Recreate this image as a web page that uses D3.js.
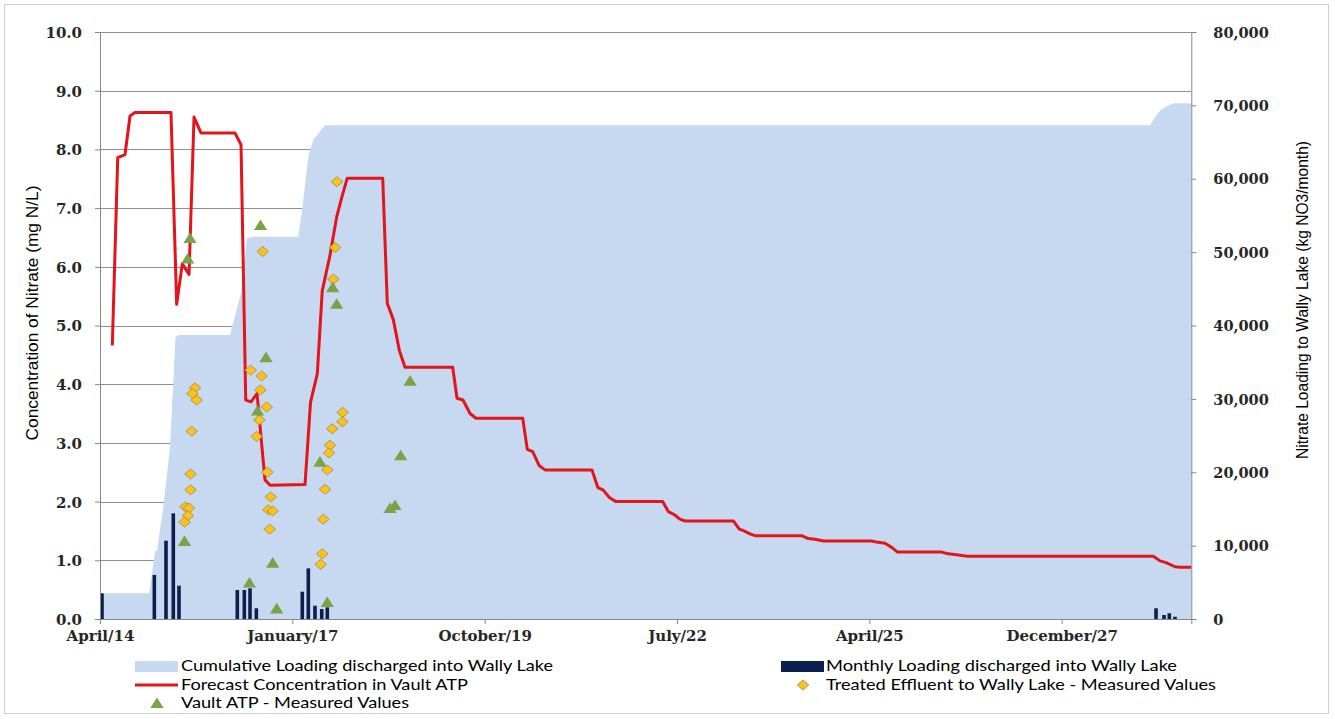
<!DOCTYPE html>
<html>
<head>
<meta charset="utf-8">
<script src="https://cdn.jsdelivr.net/npm/d3@7"></script>
<style>
  body { margin: 0; background: #ffffff; }
  svg { display: block; }
</style>
</head>
<body>
<svg id="chart" width="1335" height="719"></svg>
<script>
// ---- Data (time in decimal years) ----
const xTickYears  = [2014.2986, 2017.0365, 2019.7744, 2022.5123, 2025.2502, 2027.9881];
const xTickLabels = ["April/14", "January/17", "October/19", "July/22", "April/25", "December/27"];
const leftTicks   = [0, 1, 2, 3, 4, 5, 6, 7, 8, 9, 10];
const rightTicks  = [0, 10000, 20000, 30000, 40000, 50000, 60000, 70000, 80000];

// Cumulative loading discharged into Wally Lake (kg NO3)
const cumulative = [
  [2014.313, 3500], [2014.999, 3500], [2015.084, 9300], [2015.110, 9300],
  [2015.195, 14900], [2015.295, 23400], [2015.373, 38400], [2015.409, 38700],
  [2016.149, 38700], [2016.316, 44800], [2016.391, 51900], [2016.477, 52100],
  [2017.121, 52100], [2017.170, 55300], [2017.264, 63000], [2017.335, 65300],
  [2017.502, 67300], [2029.245, 67300], [2029.317, 68400], [2029.402, 69400],
  [2029.502, 70000], [2029.587, 70300], [2029.833, 70300]
];

// Monthly loading discharged into Wally Lake (kg NO3/month)
const monthly = [
  [2014.327, 3500], [2015.072, 6000], [2015.238, 10670], [2015.342, 14400],
  [2015.423, 4540], [2016.253, 3950], [2016.353, 3950], [2016.434, 4180],
  [2016.524, 1460], [2017.178, 3720], [2017.264, 6900], [2017.359, 1810],
  [2017.455, 1360], [2017.534, 1590], [2029.331, 1460], [2029.445, 545],
  [2029.520, 780], [2029.601, 310]
];

// Forecast concentration in Vault ATP (mg N/L)
const forecast = [
  [2014.474, 4.66], [2014.551, 7.86], [2014.654, 7.91], [2014.726, 8.57], [2014.797, 8.63],
  [2015.309, 8.63], [2015.390, 5.36], [2015.470, 6.05], [2015.519, 5.96], [2015.566, 5.87],
  [2015.637, 8.55], [2015.736, 8.28], [2016.220, 8.28], [2016.306, 8.08], [2016.373, 3.73],
  [2016.448, 3.70], [2016.534, 3.84], [2016.647, 2.37], [2016.719, 2.28], [2017.217, 2.29],
  [2017.295, 3.69], [2017.392, 4.18], [2017.462, 5.59], [2017.573, 6.20], [2017.668, 6.85],
  [2017.744, 7.20], [2017.818, 7.51], [2018.323, 7.51], [2018.388, 5.38], [2018.474, 5.10],
  [2018.559, 4.58], [2018.640, 4.29], [2019.319, 4.29], [2019.381, 3.76], [2019.466, 3.73],
  [2019.566, 3.50], [2019.651, 3.42], [2020.316, 3.42], [2020.381, 2.89], [2020.458, 2.85],
  [2020.552, 2.61], [2020.633, 2.54], [2021.302, 2.54], [2021.385, 2.24], [2021.459, 2.20],
  [2021.549, 2.07], [2021.644, 2.00], [2022.309, 2.00], [2022.388, 1.83], [2022.470, 1.78],
  [2022.555, 1.70], [2022.626, 1.67], [2023.314, 1.67], [2023.399, 1.53], [2023.466, 1.50],
  [2023.551, 1.45], [2023.623, 1.42], [2024.287, 1.42], [2024.381, 1.37], [2024.477, 1.36],
  [2024.595, 1.33], [2025.284, 1.33], [2025.355, 1.31], [2025.473, 1.29], [2025.568, 1.22],
  [2025.651, 1.14], [2026.280, 1.14], [2026.374, 1.11], [2026.517, 1.09], [2026.645, 1.07],
  [2029.292, 1.07], [2029.388, 0.99], [2029.473, 0.96], [2029.601, 0.89], [2029.672, 0.88],
  [2029.833, 0.88]
];

// Treated effluent to Wally Lake - measured values (mg N/L)
const effluent = [
  [2015.651, 3.94], [2015.613, 3.84], [2015.675, 3.73], [2015.604, 3.20], [2015.587, 2.47],
  [2015.587, 2.20], [2015.516, 1.91], [2015.566, 1.89], [2015.551, 1.76], [2015.502, 1.65],
  [2016.615, 6.26], [2016.444, 4.24], [2016.600, 4.14], [2016.581, 3.90], [2016.672, 3.61],
  [2016.566, 3.39], [2016.529, 3.11], [2016.680, 2.50], [2016.729, 2.08], [2016.694, 1.86],
  [2016.757, 1.84], [2016.714, 1.53],
  [2017.672, 7.45], [2017.644, 6.33], [2017.620, 5.79], [2017.753, 3.52], [2017.748, 3.36],
  [2017.605, 3.24], [2017.573, 2.96], [2017.558, 2.83], [2017.534, 2.54], [2017.502, 2.21],
  [2017.477, 1.70], [2017.463, 1.11], [2017.440, 0.93]
];

// Vault ATP - measured values (mg N/L)
const vault = [
  [2015.580, 6.49], [2015.547, 6.14], [2015.502, 1.33], [2016.583, 6.71], [2016.662, 4.46],
  [2016.541, 3.55], [2016.427, 0.62], [2016.757, 0.96], [2016.814, 0.18], [2017.611, 5.65],
  [2017.668, 5.37], [2017.430, 2.68], [2017.533, 0.29], [2018.712, 4.06], [2018.579, 2.79],
  [2018.498, 1.94], [2018.427, 1.89]
];

// ---- Layout ----
const plot = { left: 100, right: 1191.3, top: 32, bottom: 619 };
const COLORS = {
  area: "#c6d9f0", bar: "#0d1f4f", line: "#e3141b",
  diamond: "#fcc31d", diamondStroke: "#a08845",
  triangle: "#7aa246", grid: "#8f8f8f", axis: "#878787", text: "#262626"
};

const svg = d3.select("#chart");

const x  = d3.scaleLinear().domain([2014.2986, 2029.833]).range([plot.left, plot.right]);
const yL = d3.scaleLinear().domain([0, 10]).range([plot.bottom, plot.top]);
const yR = d3.scaleLinear().domain([0, 80000]).range([plot.bottom, plot.top]);

// outer frame
svg.append("rect")
  .attr("x", 4.5).attr("y", 4.5).attr("width", 1324).attr("height", 709)
  .attr("fill", "none").attr("stroke", "#cfcfcf");

// horizontal gridlines
svg.append("g").selectAll("line").data(leftTicks.filter(d => d > 0)).join("line")
  .attr("x1", plot.left).attr("x2", plot.right)
  .attr("y1", d => Math.round(yL(d)) + 0.5).attr("y2", d => Math.round(yL(d)) + 0.5)
  .attr("stroke", COLORS.grid).attr("stroke-width", 1);

// cumulative area (right axis)
svg.append("path").datum(cumulative)
  .attr("fill", COLORS.area)
  .attr("d", d3.area().x(d => x(d[0])).y0(yR(0)).y1(d => yR(d[1])));

// monthly bars (right axis)
const barW = 3.6;
svg.append("g").selectAll("rect").data(monthly).join("rect")
  .attr("x", d => x(d[0]) - barW / 2).attr("width", barW)
  .attr("y", d => yR(d[1])).attr("height", d => yR(0) - yR(d[1]))
  .attr("fill", COLORS.bar);

// forecast line (left axis)
svg.append("path").datum(forecast)
  .attr("fill", "none").attr("stroke", COLORS.line).attr("stroke-width", 3)
  .attr("stroke-linejoin", "round")
  .attr("d", d3.line().x(d => x(d[0])).y(d => yL(d[1])));

// markers
const diamondPath = "M0,-5L5.8,0L0,5L-5.8,0Z";
const trianglePath = "M0,-5.6L6.6,5L-6.6,5Z";

svg.append("g").selectAll("path").data(effluent).join("path")
  .attr("d", diamondPath)
  .attr("transform", d => `translate(${x(d[0])},${yL(d[1])})`)
  .attr("fill", COLORS.diamond).attr("stroke", COLORS.diamondStroke).attr("stroke-width", 0.8);

svg.append("g").selectAll("path").data(vault).join("path")
  .attr("d", trianglePath)
  .attr("transform", d => `translate(${x(d[0])},${yL(d[1])})`)
  .attr("fill", COLORS.triangle);

// ---- Axes ----
const axisFont = "'DejaVu Serif', serif";

const gL = svg.append("g").attr("transform", `translate(${plot.left},0)`)
  .call(d3.axisLeft(yL).tickValues(leftTicks).tickFormat(d3.format(".1f")).tickSize(5).tickPadding(13));
const gR = svg.append("g").attr("transform", `translate(${plot.right},0)`)
  .call(d3.axisRight(yR).tickValues(rightTicks).tickFormat(d3.format(",")).tickSize(5).tickPadding(17));
const gB = svg.append("g").attr("transform", `translate(0,${plot.bottom})`)
  .call(d3.axisBottom(x).tickValues(xTickYears).tickFormat((d, i) => xTickLabels[i]).tickSize(5).tickPadding(6));

[gL, gR, gB].forEach(g => {
  g.select(".domain").attr("stroke", COLORS.axis);
  g.selectAll(".tick line").attr("stroke", COLORS.axis);
  g.selectAll(".tick text").attr("fill", COLORS.text)
    .attr("font-family", axisFont).attr("font-weight", "bold").attr("font-size", 15);
});
gR.selectAll(".tick text").attr("font-size", 14.5);
gL.selectAll(".tick text").attr("dy", "0.36em");
gR.selectAll(".tick text").attr("dy", "0.36em");

// axis titles
const titleFont = "'Liberation Sans Narrow', 'Arial Narrow', sans-serif";
svg.append("text")
  .attr("transform", "translate(38,313) rotate(-90)")
  .attr("text-anchor", "middle").attr("font-family", titleFont).attr("font-size", 17)
  .attr("fill", "#000").attr("textLength", 255).attr("lengthAdjust", "spacingAndGlyphs")
  .text("Concentration of Nitrate (mg N/L)");
svg.append("text")
  .attr("transform", "translate(1308,300) rotate(-90)")
  .attr("text-anchor", "middle").attr("font-family", titleFont).attr("font-size", 17)
  .attr("fill", "#000").attr("textLength", 318).attr("lengthAdjust", "spacingAndGlyphs")
  .text("Nitrate Loading to Wally Lake (kg NO3/month)");

// ---- Legend ----
const legendFont = "Lato, 'Open Sans', sans-serif";
const legend = svg.append("g").attr("font-family", legendFont).attr("font-size", 15).attr("fill", "#000");

function legendText(xPos, yPos, label, len) {
  legend.append("text").attr("x", xPos).attr("y", yPos).attr("dy", "0.35em")
    .attr("textLength", len).attr("lengthAdjust", "spacingAndGlyphs").text(label);
}

// row 1
legend.append("rect").attr("x", 135).attr("y", 661).attr("width", 43).attr("height", 11).attr("fill", COLORS.area);
legendText(181, 666, "Cumulative Loading discharged into Wally Lake", 372);
legend.append("rect").attr("x", 781).attr("y", 661).attr("width", 43).attr("height", 11).attr("fill", COLORS.bar);
legendText(826, 666, "Monthly Loading discharged into Wally Lake", 351);
// row 2
legend.append("line").attr("x1", 135).attr("x2", 178).attr("y1", 685).attr("y2", 685)
  .attr("stroke", COLORS.line).attr("stroke-width", 3);
legendText(181, 685, "Forecast Concentration in Vault ATP", 287);
legend.append("path").attr("d", diamondPath).attr("transform", "translate(803,685)")
  .attr("fill", COLORS.diamond).attr("stroke", COLORS.diamondStroke).attr("stroke-width", 0.8);
legendText(826, 685, "Treated Effluent to Wally Lake - Measured Values", 390);
// row 3
legend.append("path").attr("d", trianglePath).attr("transform", "translate(157,703)")
  .attr("fill", COLORS.triangle);
legendText(181, 703, "Vault ATP - Measured Values", 228);
</script>
</body>
</html>
